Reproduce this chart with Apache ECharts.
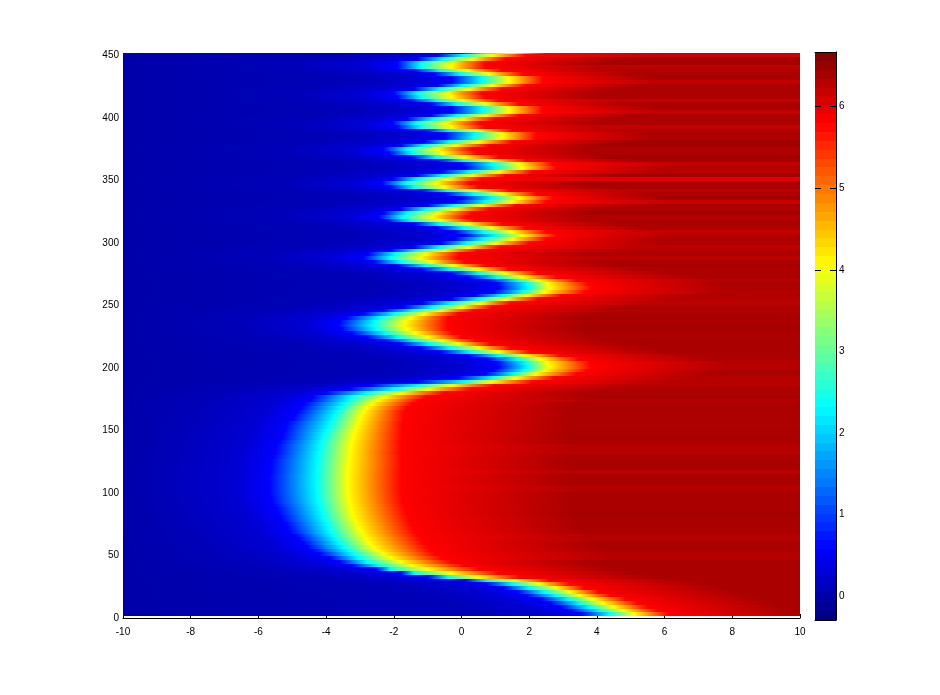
<!DOCTYPE html>
<html>
<head>
<meta charset="utf-8">
<title>Front map</title>
<script src="https://cdn.jsdelivr.net/npm/echarts@6/dist/echarts.min.js"></script>
<style>
  html, body { margin: 0; background: #fff; }
  #chart { width: 940px; height: 695px; }
</style>
</head>
<body>
<div id="chart"></div>
<script>
// one row per 3 units of y
const rowY = [
  3,6,9,12,15,18,21,24,27,30, 33,36,39,42,45,48,51,54,57,60,
  63,66,69,72,75,78,81,84,87,90, 93,96,99,102,105,108,111,114,117,120,
  123,126,129,132,135,138,141,144,147,150, 153,156,159,162,165,168,171,174,177,180,
  183,186,189,192,195,198,201,204,207,210, 213,216,219,222,225,228,231,234,237,240,
  243,246,249,252,255,258,261,264,267,270, 273,276,279,282,285,288,291,294,297,300,
  303,306,309,312,315,318,321,324,327,330, 333,336,339,342,345,348,351,354,357,360,
  363,366,369,372,375,378,381,384,387,390, 393,396,399,402,405,408,411,414,417,420,
  423,426,429,432,435,438,441,444,447,450, 453
];
// x where the row turns yellow (value about 4)
const yellowX = [
  5.1,4.8,4.5,4.2,3.9,3.5,3.2,2.8,2.3,1.6,
  0.5,-0.3,-1,-1.45,-1.8,-2.09,-2.3,-2.47,-2.6,-2.72,
  -2.8,-2.9,-2.97,-3.03,-3.09,-3.14,-3.18,-3.22,-3.26,-3.29,
  -3.31,-3.33,-3.34,-3.35,-3.36,-3.36,-3.36,-3.36,-3.35,-3.34,
  -3.33,-3.32,-3.31,-3.3,-3.28,-3.27,-3.24,-3.2,-3.17,-3.14,
  -3.1,-3.05,-3,-2.95,-2.9,-2.8,-2.65,-2.47,-2.3,-1.8,
  -1,-0.3,0.9,1.6,2.2,2.45,2.58,2.55,2.35,1.9,
  1.1,0.5,-0.1,-0.55,-1,-1.35,-1.6,-1.7,-1.65,-1.5,
  -1.1,-0.6,0,0.55,1.3,1.9,2.45,2.6,2.55,2.3,
  1.8,1.3,0.5,-0.2,-0.9,-1.2,-1.05,-0.5,0.2,1,
  1.5,1.8,1.5,0.9,0.2,-0.6,-0.85,-0.7,-0.2,0.6,
  1.5,1.7,1.2,0.4,-0.5,-0.75,-0.4,0.3,1.1,1.8,
  1.7,0.9,0.1,-0.55,-0.7,-0.2,0.5,1.2,1.2,0.5,
  -0.3,-0.45,0,0.7,1.4,1.4,0.7,0.1,-0.3,-0.4,
  0.2,0.9,1.4,1.4,0.8,0.2,-0.3,-0.3,0.3,0.9, 1.5
];
// distance left of yellowX to pure blue (value about 0.6)
const blueGap = [
  1.55,1.55,1.55,1.55,1.55,1.55,1.55,1.55,1.55,1.5,
  1.5,1.5,1.5,1.8,1.8,1.8,1.9,1.9,1.95,1.95,
  2,2,2.1,2.1,2.1,2.15,2.15,2.2,2.2,2.25,
  2.3,2.3,2.33,2.33,2.33,2.33,2.33,2.33,2.3,2.3,
  2.3,2.3,2.25,2.2,2.2,2.2,2.15,2.1,2.1,2.1,
  2.1,2.1,2,2,1.95,1.95,2,2,2.1,2.2,
  2.3,2.4,2.2,1.7,1.5,1.5,1.5,1.5,1.6,1.7,
  1.7,1.7,1.7,1.7,1.8,1.9,1.95,1.95,1.95,1.9,
  1.8,1.7,1.7,1.7,1.6,1.5,1.5,1.5,1.5,1.5,
  1.6,1.6,1.7,1.7,1.7,1.7,1.7,1.6,1.6,1.6,
  1.7,1.7,1.7,1.6,1.6,1.6,1.6,1.6,1.6,1.6,
  1.7,1.7,1.7,1.6,1.6,1.6,1.6,1.6,1.7,1.7,
  1.7,1.6,1.6,1.6,1.6,1.6,1.6,1.7,1.7,1.6,
  1.6,1.6,1.6,1.6,1.7,1.7,1.6,1.6,1.6,1.6,
  1.6,1.6,1.7,1.7,1.6,1.6,1.6,1.6,1.6,1.6, 1.6
];
// distance left of yellowX to cyan (value about 2.3)
const cyanGap = [
  0.72,0.72,0.72,0.72,0.72,0.72,0.75,0.8,0.8,0.85,
  0.9,1.1,1.1,1,1,0.95,0.9,0.88,0.88,0.88,
  0.9,0.9,0.9,0.9,0.9,0.9,0.9,0.9,0.9,0.9,
  0.92,0.92,0.92,0.92,0.92,0.92,0.92,0.92,0.92,0.92,
  0.92,0.92,0.92,0.92,0.9,0.9,0.9,0.88,0.88,0.85,
  0.82,0.82,0.8,0.8,0.78,0.78,0.8,0.85,0.95,1,
  1,1,0.85,0.7,0.65,0.62,0.62,0.65,0.7,0.8,
  0.85,0.85,0.85,0.85,0.88,0.9,0.92,0.92,0.92,0.9,
  0.88,0.85,0.85,0.85,0.8,0.7,0.65,0.62,0.62,0.65,
  0.75,0.8,0.85,0.85,0.9,0.9,0.9,0.85,0.85,0.85,
  0.85,0.8,0.85,0.85,0.85,0.9,0.9,0.9,0.85,0.85,
  0.8,0.8,0.85,0.85,0.9,0.9,0.9,0.85,0.85,0.8,
  0.8,0.85,0.85,0.9,0.9,0.9,0.85,0.85,0.8,0.85,
  0.9,0.9,0.85,0.85,0.8,0.8,0.85,0.85,0.9,0.9,
  0.85,0.85,0.8,0.8,0.85,0.85,0.9,0.9,0.85,0.85, 0.85
];
// distance right of yellowX to pure red (value about 5.8)
const redGap = [
  1,1,1,1,0.95,0.9,0.85,0.83,0.9,1,
  1.2,1.4,1.5,1.5,1.5,1.5,1.5,1.55,1.6,1.6,
  1.6,1.6,1.6,1.6,1.6,1.6,1.6,1.6,1.6,1.6,
  1.57,1.57,1.57,1.57,1.57,1.57,1.57,1.57,1.57,1.57,
  1.57,1.55,1.55,1.5,1.5,1.5,1.45,1.45,1.4,1.4,
  1.35,1.3,1.3,1.25,1.2,1.2,1.2,1.2,1.25,1.27,
  1.27,1.27,1.2,1.15,1.2,1.25,1.25,1.25,1.1,1,
  0.95,0.95,0.95,0.95,1,1.1,1.2,1.3,1.25,1.1,
  1,0.95,0.9,0.9,0.95,1.05,1.2,1.25,1.2,1.1,
  1,0.95,0.9,0.9,1,1.1,1,0.95,0.95,1,
  1,1,1,1,1,1,1,1,1,1,
  1,1,1,1,1,1,1,1,1,1,
  1,1,1,1,1,1,1,1,1,1,
  1,1,1,1,1,1,1,1,1,1,
  1,1,1,1,1,1,1,1,1,1, 1
];
// value of the flat right part of each row (the dark streaks)
const plateau = [
  6.37,6.37,6.37,6.37,6.37,6.37,6.37,6.37,6.37,6.37,
  6.37,6.37,6.37,6.37,6.37,6.3,6.3,6.37,6.37,6.37,
  6.3,6.3,6.37,6.37,6.37,6.37,6.37,6.42,6.37,6.37,
  6.37,6.37,6.37,6.3,6.3,6.37,6.37,6.37,6.28,6.37,
  6.37,6.37,6.37,6.3,6.3,6.3,6.37,6.37,6.37,6.37,
  6.36,6.36,6.36,6.36,6.36,6.36,6.36,6.3,6.38,6.36,
  6.36,6.28,6.3,6.3,6.36,6.36,6.3,6.3,6.36,6.36,
  6.38,6.38,6.38,6.38,6.36,6.36,6.4,6.4,6.36,6.4,
  6.36,6.3,6.38,6.25,6.3,6.34,6.3,6.36,6.36,6.28,
  6.35,6.36,6.35,6.4,6.36,6.25,6.36,6.3,6.25,6.36,
  6.35,6.3,6.2,6.35,6.36,6.36,6.3,6.42,6.36,6.36,
  6.15,6.42,6.36,6.25,6.36,6.4,6,6.42,6.3,6.3,
  6.2,6.4,6.45,6.36,6.36,6.42,6.42,6.35,6.35,6.36,
  6.2,6.35,6.36,6.36,6.2,6.38,6.36,6.2,6.35,6.35,
  6.36,6.36,6.22,6.4,6.36,6.36,6.25,6.4,6.4,6.15, 6.15
];
const colorbarLabels = [0,1,2,3,4,5,6];
const colorbarTicks = [4,5,6];
const colorMin = -0.29;
const colorMax = 6.67;

// matlab jet, t in 0..1
function jet(t) {
  const c = (v) => Math.round(255 * Math.max(0, Math.min(1, v)));
  return 'rgb(' + c(Math.min(4 * t - 1.5, 4.5 - 4 * t)) + ',' +
    c(Math.min(4 * t - 0.5, 3.5 - 4 * t)) + ',' +
    c(Math.min(4 * t + 0.5, 2.5 - 4 * t)) + ')';
}
const valueColor = (v) => jet((v - colorMin) / (colorMax - colorMin));

const rows = rowY.map((y, i) => [y, yellowX[i] - blueGap[i], yellowX[i] - cyanGap[i], yellowX[i], yellowX[i] + redGap[i], plateau[i]]);
const stopAt = (x) => Math.max(0, Math.min(1, (x + 10) / 20));

function renderRow(params, api) {
  const y = api.value(0);
  const top = Math.round(api.coord([-10, y + 1.5])[1]);
  const bottom = Math.round(api.coord([-10, y - 1.5])[1]);
  const left = api.coord([-10, y])[0];
  const right = api.coord([10, y])[0];
  const blue = api.value(1), cyan = api.value(2), yellow = api.value(3), red = api.value(4);
  const tail = yellow < -2 ? 5 : (y > 300 ? 3.4 : 4);
  const stops = [
    { offset: 0, color: 'rgb(0,0,170)' },
    { offset: stopAt(blue - 3), color: 'rgb(0,0,185)' },
    { offset: stopAt(blue - 1), color: 'rgb(0,0,210)' },
    { offset: stopAt(blue), color: 'rgb(0,0,255)' },
    { offset: stopAt(cyan), color: 'rgb(0,255,255)' },
    { offset: stopAt(yellow), color: 'rgb(255,255,0)' },
    { offset: stopAt(red), color: 'rgb(255,0,0)' },
    { offset: stopAt(red + tail), color: valueColor(api.value(5)) },
    { offset: 1, color: valueColor(api.value(5)) }
  ];
  return {
    type: 'rect',
    shape: { x: left, y: top, width: right - left, height: bottom - top },
    style: { fill: new echarts.graphic.LinearGradient(0, 0, 1, 0, stops) }
  };
}

// colorbar, 64 flat steps like the colormap
const barSteps = Array.from({ length: 64 }, (_, i) => [i]);
function renderStep(params, api) {
  const i = api.value(0);
  const step = (colorMax - colorMin) / 64;
  const top = Math.round(api.coord([0, colorMin + (i + 1) * step])[1]);
  const bottom = Math.round(api.coord([0, colorMin + i * step])[1]);
  const left = api.coord([0, colorMin])[0];
  const right = api.coord([1, colorMin])[0];
  return {
    type: 'rect',
    shape: { x: left, y: top, width: right - left, height: bottom - top },
    style: { fill: jet((i + 0.5) / 64) }
  };
}

const font = { fontFamily: 'Liberation Sans', fontSize: 10, color: '#000' };
const chart = echarts.init(document.getElementById('chart'));
chart.setOption({
  animation: false,
  backgroundColor: '#fff',
  grid: [
    { left: 123, right: 140, top: 53, bottom: 77 },
    { left: 815, right: 104, top: 52, bottom: 75 }
  ],
  xAxis: [
    {
      type: 'value', gridIndex: 0, min: -10, max: 10, interval: 2,
      splitLine: { show: false },
      axisLine: { onZero: false, lineStyle: { color: '#000', width: 1 } },
      axisTick: { inside: true, length: 4, lineStyle: { color: '#000' } },
      axisLabel: { ...font, margin: 9 }
    },
    {
      type: 'value', gridIndex: 1, min: 0, max: 1, position: 'bottom',
      splitLine: { show: false }, axisTick: { show: false }, axisLabel: { show: false },
      axisLine: { onZero: false, lineStyle: { color: '#000' } }, z: 5
    },
    {
      type: 'value', gridIndex: 1, min: 0, max: 1, position: 'top',
      splitLine: { show: false }, axisTick: { show: false }, axisLabel: { show: false },
      axisLine: { onZero: false, lineStyle: { color: '#000' } }, z: 5
    }
  ],
  yAxis: [
    {
      type: 'value', gridIndex: 0, min: 0, max: 452, interval: 50,
      splitLine: { show: false },
      axisLine: { show: false, onZero: false },
      axisTick: { show: false },
      axisLabel: { ...font, margin: 4, padding: [2, 0, 0, 0] }
    },
    {
      type: 'value', gridIndex: 1, min: colorMin, max: colorMax, position: 'right',
      splitLine: { show: false }, z: 5,
      axisLine: { show: true, onZero: false, lineStyle: { color: '#000' } },
      axisTick: { inside: true, length: 6, lineStyle: { color: '#000' }, customValues: colorbarTicks },
      axisLabel: { ...font, margin: 3, padding: [4, 0, 0, 0], customValues: colorbarLabels }
    },
    {
      type: 'value', gridIndex: 1, min: colorMin, max: colorMax, position: 'left',
      splitLine: { show: false }, z: 5,
      axisLine: { show: false, onZero: false },
      axisTick: { show: true, inside: true, length: 6, lineStyle: { color: '#000' }, customValues: colorbarTicks },
      axisLabel: { show: false }
    }
  ],
  series: [
    {
      type: 'custom', xAxisIndex: 0, yAxisIndex: 0, clip: true, silent: true,
      data: rows, renderItem: renderRow, encode: { y: 0 }
    },
    {
      type: 'custom', xAxisIndex: 1, yAxisIndex: 1, clip: true, silent: true,
      data: barSteps, renderItem: renderStep
    }
  ]
});
window.addEventListener('resize', () => chart.resize());
</script>
</body>
</html>
